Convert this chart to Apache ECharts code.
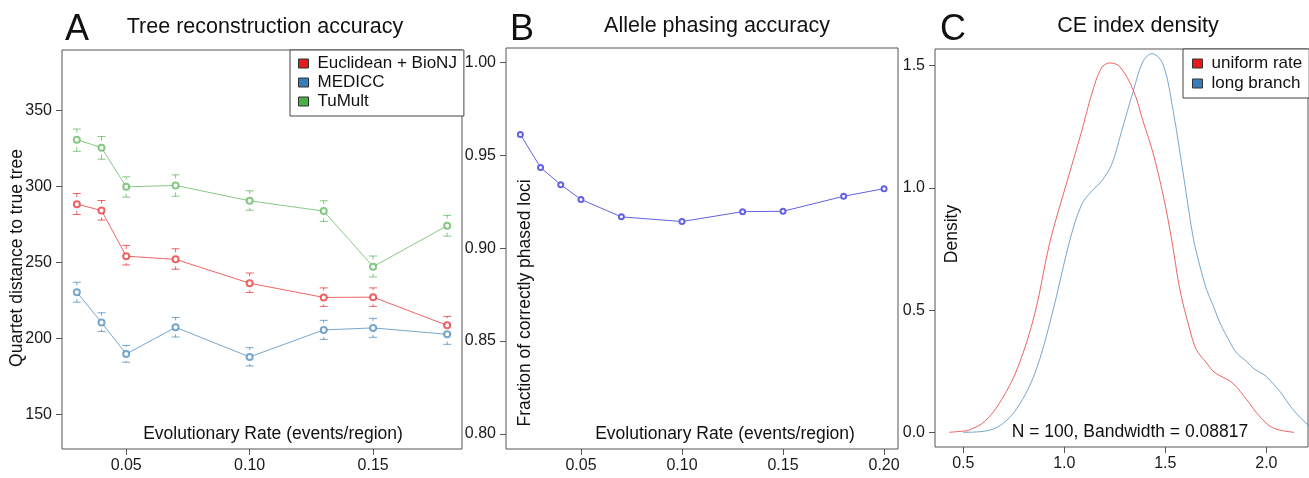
<!DOCTYPE html>
<html>
<head>
<meta charset="utf-8">
<script src="https://cdn.jsdelivr.net/npm/echarts@6/dist/echarts.min.js"></script>
<style>html,body{margin:0;padding:0;background:#fff;}#c{width:1309px;height:478px;}</style>
</head>
<body>
<div id="c"></div>
<script>
// ---- Panel A data ----
const ratesA = [0.03, 0.04, 0.05, 0.07, 0.10, 0.13, 0.15, 0.18];
const euclidMean = [288.4, 284.2, 254.1, 252.0, 236.3, 226.9, 227.1, 208.5];
const euclidLow  = [281.6, 277.9, 248.3, 245.5, 230.2, 221.0, 221.0, 202.6];
const euclidHigh = [295.4, 290.8, 261.2, 259.0, 243.0, 233.2, 233.2, 214.4];
const medMean = [230.4, 210.4, 189.6, 207.2, 187.7, 205.5, 206.8, 202.6];
const medLow  = [223.8, 204.5, 184.2, 200.8, 181.7, 199.2, 200.6, 196.0];
const medHigh = [236.9, 216.8, 195.3, 213.7, 193.8, 211.8, 213.1, 208.8];
const tuMean = [330.9, 325.6, 299.8, 300.7, 290.6, 283.8, 247.2, 274.2];
const tuLow  = [323.2, 318.0, 293.0, 293.6, 284.4, 277.0, 240.4, 267.3];
const tuHigh = [337.9, 333.0, 306.4, 307.7, 297.2, 290.6, 254.2, 281.0];
const ticksAx = [0.05, 0.10, 0.15];
const ticksAy = [150, 200, 250, 300, 350];

// ---- Panel B data ----
const ratesB = [0.02, 0.03, 0.04, 0.05, 0.07, 0.10, 0.13, 0.15, 0.18, 0.20];
const phased = [0.9613, 0.9435, 0.9342, 0.9263, 0.9169, 0.9144, 0.9197, 0.9199, 0.9280, 0.9321];
const ticksBx = [0.05, 0.10, 0.15, 0.20];
const ticksBy = [0.80, 0.85, 0.90, 0.95, 1.00];

// ---- Panel C data ----
const uniformX = [0.43, 0.5, 0.525, 0.607, 0.69, 0.772, 0.855, 0.929, 1.019, 1.086, 1.135, 1.184, 1.226, 1.275, 1.341, 1.39, 1.44, 1.489, 1.531, 1.572, 1.621, 1.654, 1.704, 1.736, 1.77, 1.835, 1.902, 1.967, 2.033, 2.137];
const uniformY = [0, 0.005, 0.008, 0.045, 0.134, 0.27, 0.489, 0.78, 1.041, 1.232, 1.382, 1.491, 1.511, 1.495, 1.40, 1.272, 1.14, 0.97, 0.79, 0.584, 0.42, 0.338, 0.284, 0.25, 0.232, 0.2, 0.134, 0.065, 0.018, 0];
const longX = [0.5, 0.607, 0.69, 0.772, 0.855, 0.937, 1.028, 1.086, 1.135, 1.184, 1.234, 1.283, 1.341, 1.39, 1.435, 1.489, 1.539, 1.588, 1.637, 1.671, 1.704, 1.736, 1.77, 1.819, 1.852, 1.902, 1.934, 1.984, 2.0, 2.066, 2.132, 2.2, 2.25];
const longY = [0, 0.005, 0.032, 0.106, 0.243, 0.475, 0.788, 0.932, 0.986, 1.027, 1.095, 1.23, 1.395, 1.518, 1.549, 1.504, 1.313, 1.06, 0.8, 0.68, 0.584, 0.52, 0.448, 0.37, 0.325, 0.29, 0.263, 0.238, 0.229, 0.168, 0.093, 0.035, 0.012];
const ticksCx = [0.5, 1.0, 1.5, 2.0];
const ticksCy = [0.0, 0.5, 1.0, 1.5];

const FONT = 'Liberation Sans, Arial, sans-serif';
const RED = '#e41a1c', BLUE = '#377eb8', GREEN = '#4daf4a';
const RED_L = 'rgba(228,26,28,0.68)', BLUE_L = 'rgba(55,126,184,0.68)', GREEN_L = 'rgba(77,175,74,0.68)';
const AXC = '#555';

function zip(a, b) { return a.map((v, i) => [v, b[i]]); }
function errData(x, lo, hi, m) { return x.map((v, i) => [v, lo[i], hi[i], m[i]]); }

function valAxis(gi, min, max, ticks, dec, isX) {
  return {
    type: 'value', gridIndex: gi, min: min, max: max,
    axisLine: { show: false, onZero: false },
    splitLine: { show: false },
    axisTick: { show: true, inside: false, length: 6, customValues: ticks, lineStyle: { color: AXC } },
    axisLabel: { customValues: ticks, formatter: v => v.toFixed(dec), fontSize: 16, fontFamily: FONT, color: '#1a1a1a', margin: isX ? 9 : 10 }
  };
}

function errSeries(name, color, data) {
  return {
    type: 'custom', name: name, xAxisIndex: 0, yAxisIndex: 0, silent: true,
    data: data,
    renderItem: function (params, api) {
      const x = api.value(0);
      const p = api.coord([x, api.value(3)]);
      const lo = api.coord([x, api.value(1)]);
      const hi = api.coord([x, api.value(2)]);
      const hw = 4, gap = 7;
      const st = { stroke: color, lineWidth: 1, fill: null };
      const ch = [
        { type: 'line', shape: { x1: p[0] - hw, y1: hi[1], x2: p[0] + hw, y2: hi[1] }, style: st },
        { type: 'line', shape: { x1: p[0] - hw, y1: lo[1], x2: p[0] + hw, y2: lo[1] }, style: st }
      ];
      if (hi[1] < p[1] - gap) ch.push({ type: 'line', shape: { x1: p[0], y1: hi[1], x2: p[0], y2: p[1] - gap }, style: st });
      if (lo[1] > p[1] + gap) ch.push({ type: 'line', shape: { x1: p[0], y1: p[1] + gap, x2: p[0], y2: lo[1] }, style: st });
      return { type: 'group', children: ch };
    }
  };
}

function lineA(name, color, data) {
  return {
    type: 'line', name: name, xAxisIndex: 0, yAxisIndex: 0, data: data,
    symbol: 'emptyCircle', symbolSize: 6, showSymbol: true,
    lineStyle: { color: color, width: 1 }, itemStyle: { color: color, borderWidth: 1 },
    emphasis: { disabled: true }, animation: false
  };
}

function txt(x, y, text, size, rot) {
  return {
    type: 'text', x: x, y: y, rotation: rot || 0,
    style: { text: text, fontSize: size, fontFamily: FONT, fill: '#111', align: 'center', verticalAlign: 'middle' },
    z: 100
  };
}

const chart = echarts.init(document.getElementById('c'), null, { renderer: 'canvas' });
chart.setOption({
  animation: false,
  backgroundColor: '#fff',
  grid: [
    { left: 62, top: 50, width: 400, height: 399, show: true, borderColor: AXC, borderWidth: 1, backgroundColor: 'transparent' },
    { left: 506, top: 48, width: 392, height: 401, show: true, borderColor: AXC, borderWidth: 1, backgroundColor: 'transparent' },
    { left: 935, top: 49, width: 373, height: 398, show: true, borderColor: AXC, borderWidth: 1, backgroundColor: 'transparent' }
  ],
  xAxis: [
    valAxis(0, 0.024, 0.186, ticksAx, 2, true),
    valAxis(1, 0.0129, 0.2069, ticksBx, 2, true),
    valAxis(2, 0.36, 2.206, ticksCx, 1, true)
  ],
  yAxis: [
    valAxis(0, 127, 390, ticksAy, 0, false),
    valAxis(1, 0.7918, 1.0079, ticksBy, 2, false),
    valAxis(2, -0.06, 1.568, ticksCy, 1, false)
  ],
  legend: [
    {
      left: 290, top: 50, orient: 'vertical', icon: 'rect', itemWidth: 10, itemHeight: 9, itemGap: 2,
      padding: [5, 7, 6, 8], borderColor: '#444', borderWidth: 1, backgroundColor: '#fff',
      textStyle: { fontSize: 17, fontFamily: FONT, color: '#111', lineHeight: 17, padding: [0, 0, 0, 4] },
      itemStyle: { borderColor: '#333', borderWidth: 1 },
      selectedMode: false,
      data: [
        { name: 'Euclidean + BioNJ', itemStyle: { color: RED, borderColor: '#333', borderWidth: 1 } },
        { name: 'MEDICC', itemStyle: { color: BLUE, borderColor: '#333', borderWidth: 1 } },
        { name: 'TuMult', itemStyle: { color: GREEN, borderColor: '#333', borderWidth: 1 } }
      ]
    },
    {
      left: 1183, top: 49, orient: 'vertical', icon: 'rect', itemWidth: 10, itemHeight: 9, itemGap: 3,
      padding: [6, 7, 6, 9], borderColor: '#444', borderWidth: 1, backgroundColor: '#fff',
      textStyle: { fontSize: 17, fontFamily: FONT, color: '#111', lineHeight: 17, padding: [0, 0, 0, 4] },
      itemStyle: { borderColor: '#333', borderWidth: 1 },
      selectedMode: false,
      data: [
        { name: 'uniform rate', itemStyle: { color: RED, borderColor: '#333', borderWidth: 1 } },
        { name: 'long branch', itemStyle: { color: BLUE, borderColor: '#333', borderWidth: 1 } }
      ]
    }
  ],
  graphic: [
    txt(77, 30, 'A', 36), txt(522, 30, 'B', 36), txt(953, 30, 'C', 36),
    txt(265, 27, 'Tree reconstruction accuracy', 21.5),
    txt(717, 26, 'Allele phasing accuracy', 21.5),
    txt(1138, 26, 'CE index density', 21.5),
    txt(17, 258, 'Quartet distance to true tree', 17.5, Math.PI / 2),
    txt(273, 434, 'Evolutionary Rate (events/region)', 17.5),
    txt(525, 303, 'Fraction of correctly phased loci', 17.5, Math.PI / 2),
    txt(725, 434, 'Evolutionary Rate (events/region)', 17.5),
    txt(952, 234, 'Density', 17.5, Math.PI / 2),
    txt(1130, 432, 'N = 100, Bandwidth = 0.08817', 17.5)
  ],
  series: [
    errSeries('errE', RED_L, errData(ratesA, euclidLow, euclidHigh, euclidMean)),
    errSeries('errM', BLUE_L, errData(ratesA, medLow, medHigh, medMean)),
    errSeries('errT', GREEN_L, errData(ratesA, tuLow, tuHigh, tuMean)),
    lineA('Euclidean + BioNJ', RED_L, zip(ratesA, euclidMean)),
    lineA('MEDICC', BLUE_L, zip(ratesA, medMean)),
    lineA('TuMult', GREEN_L, zip(ratesA, tuMean)),
    {
      type: 'line', name: 'phased', xAxisIndex: 1, yAxisIndex: 1, data: zip(ratesB, phased),
      symbol: 'emptyCircle', symbolSize: 5, lineStyle: { color: '#6262e6', width: 1 },
      itemStyle: { color: '#6262e6', borderWidth: 1 }, emphasis: { disabled: true }
    },
    {
      type: 'line', name: 'uniform rate', xAxisIndex: 2, yAxisIndex: 2, data: zip(uniformX, uniformY),
      showSymbol: false, symbol: 'none', smooth: 0.35, clip: true,
      lineStyle: { color: RED_L, width: 1 }, itemStyle: { color: RED_L }, emphasis: { disabled: true }
    },
    {
      type: 'line', name: 'long branch', xAxisIndex: 2, yAxisIndex: 2, data: zip(longX, longY),
      showSymbol: false, symbol: 'none', smooth: 0.35, clip: true,
      lineStyle: { color: BLUE_L, width: 1 }, itemStyle: { color: BLUE_L }, emphasis: { disabled: true }
    }
  ]
});
</script>
</body>
</html>
